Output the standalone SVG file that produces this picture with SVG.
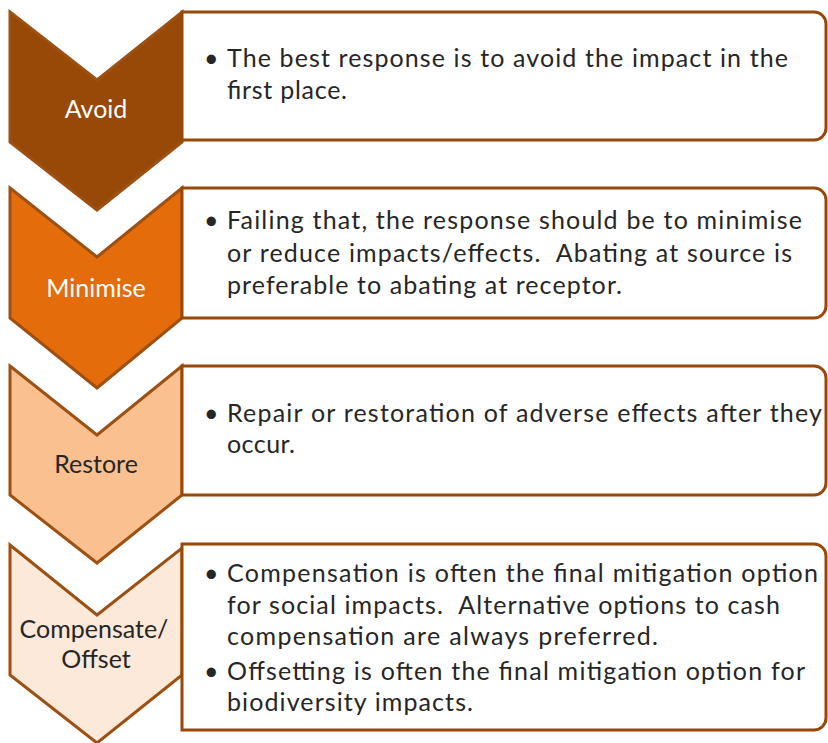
<svg xmlns="http://www.w3.org/2000/svg" width="828" height="743" viewBox="0 0 828 743">
<style>
.chev{stroke:#9C5014;stroke-width:3;stroke-linejoin:miter}
.box{fill:#ffffff;stroke:#984807;stroke-width:3}
.t{font-family:Lato,"Open Sans","Liberation Sans",sans-serif;font-size:25px;fill:#262626;white-space:pre}
.lbl{font-family:Lato,"Open Sans","Liberation Sans",sans-serif;font-size:25px;text-anchor:middle}
</style>
<rect width="828" height="743" fill="#ffffff"/>
<g id="connectors"/>
<g id="avoid">
<path class="chev" fill="#984807" d="M10,12 L97,80 L182,12 L182,142 L97,210 L10,142 Z"/>
<text class="lbl" x="96" y="118" fill="#ffffff">Avoid</text>
<path class="box" d="M182,12 H814 A12,12 0 0 1 826,24 V128 A12,12 0 0 1 814,140 H182 Z"/>
<text class="t" x="204" y="67">•</text>
<text class="t" x="227" y="67" textLength="561">The best response is to avoid the impact in the</text>
<text class="t" x="227" y="99" textLength="120">first place.</text>
</g>
<g id="minimise">
<path class="chev" fill="#E46C0A" d="M10,188 L97,257 L182,188 L182,318 L97,388 L10,318 Z"/>
<text class="lbl" x="96" y="297" fill="#ffffff">Minimise</text>
<path class="box" d="M182,188 H814 A12,12 0 0 1 826,200 V306 A12,12 0 0 1 814,318 H182 Z"/>
<text class="t" x="204" y="229">•</text>
<text class="t" x="227" y="229" textLength="575">Failing that, the response should be to minimise</text>
<text class="t" x="227" y="262" textLength="565">or reduce impacts/effects.  Abating at source is</text>
<text class="t" x="227" y="294" textLength="395">preferable to abating at receptor.</text>
</g>
<g id="restore">
<path class="chev" fill="#FAC090" d="M10,366 L97,435 L182,366 L182,495 L97,563 L10,495 Z"/>
<text class="lbl" x="96" y="473" fill="#262626">Restore</text>
<path class="box" d="M182,366 H814 A12,12 0 0 1 826,378 V483 A12,12 0 0 1 814,495 H182 Z"/>
<text class="t" x="204" y="422">•</text>
<text class="t" x="227" y="422" textLength="595">Repair or restoration of adverse effects after they</text>
<text class="t" x="227" y="453" textLength="68">occur.</text>
</g>
<g id="compensate">
<path class="chev" fill="#FDE9D9" d="M10,545 L97,615 L182,548 L182,675 L97,743 L10,675 Z"/>
<text class="lbl" x="94" y="638" fill="#262626">Compensate/</text>
<text class="lbl" x="96" y="668" fill="#262626">Offset</text>
<path class="box" d="M182,544 H814 A12,12 0 0 1 826,556 V718 A12,12 0 0 1 814,730 H182 Z"/>
<text class="t" x="204" y="582">•</text>
<text class="t" x="227" y="582" textLength="591">Compensation is often the final mitigation option</text>
<text class="t" x="227" y="614" textLength="553">for social impacts.  Alternative options to cash</text>
<text class="t" x="227" y="645" textLength="431">compensation are always preferred.</text>
<text class="t" x="204" y="680">•</text>
<text class="t" x="227" y="680" textLength="578">Offsetting is often the final mitigation option for</text>
<text class="t" x="227" y="711" textLength="246">biodiversity impacts.</text>
</g>
</svg>
